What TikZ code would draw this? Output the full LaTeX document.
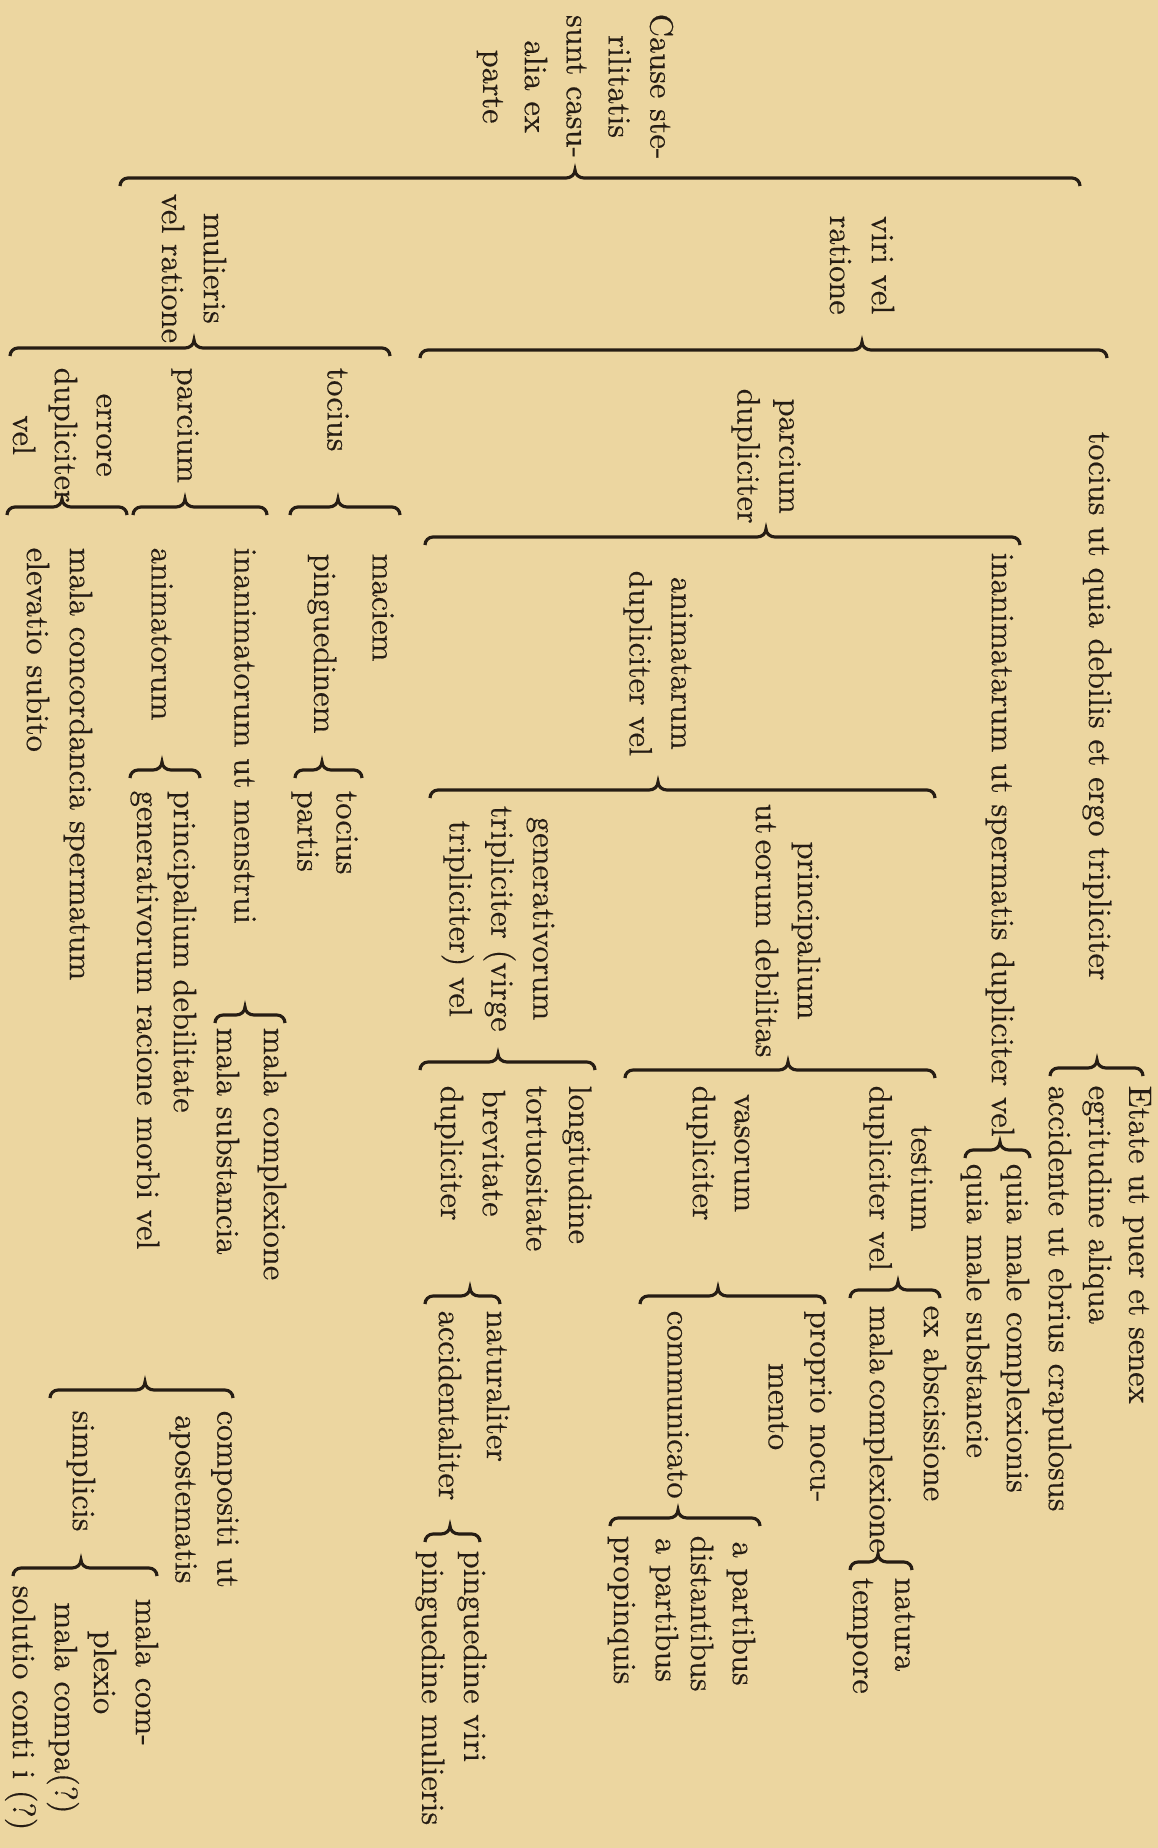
\documentclass[tikz,border=0pt]{standalone}
\usepackage{fontspec}
\newfontfamily\tabfont{lmroman10-regular.otf}[FakeBold=0.4]
\usetikzlibrary{calc}
\definecolor{paper}{RGB}{236,214,160}
\definecolor{ink}{RGB}{38,29,20}
% brace at height #2 from #3 to #4, tip at the parent #1
\newcommand{\brc}[4]{%
  \coordinate (tip) at (#1.center |- 0,-#2);
  \draw[brc] (#3,-#2-8) to[out=90,in=180] (#3+8,-#2)
    -- ($(tip)+(-9,0)$) to[out=0,in=-90] ($(tip)+(0,8)$)
    to[out=-90,in=180] ($(tip)+(9,0)$) -- (#4-8,-#2)
    to[out=0,in=90] (#4,-#2-8);}
\begin{document}
\begin{tikzpicture}[x=0.01cm,y=0.01cm,
 lbl/.style={rotate=-90, anchor=west, inner sep=0pt, align=center, text=ink,
             font={\tabfont\fontsize{9.2}{11.9}\selectfont}},
 brc/.style={draw=ink, line width=0.9pt}]
\fill[paper] (0,0) rectangle (1158,-1848);

\node[lbl] (root) at (575,-13) {Cause ste-\\rilitatis\\sunt casu-\\alia ex\\parte};
\node[lbl] (viri) at (862,-215) {viri vel\\ratione};
\node[lbl] (mul) at (194,-193) {mulieris\\vel ratione};

% viri
\node[lbl] (tot) at (1097,-431) {tocius ut quia debilis et ergo tripliciter};
\node[lbl] (eta) at (1137,-1085) {Etate ut puer et senex};
\node[lbl] (egr) at (1097,-1085) {egritudine aliqua};
\node[lbl] (acc) at (1057,-1085) {accidente ut ebrius crapulosus};
\node[lbl] (par) at (766,-388) {parcium\\dupliciter};
\node[lbl] (ina) at (1000,-552) {inanimatarum ut spermatis dupliciter vel};
\node[lbl] (qmc) at (1015,-1163) {quia male complexionis};
\node[lbl] (qms) at (975,-1163) {quia male substancie};
\node[lbl] (ani) at (658,-570) {animatarum\\dupliciter vel};
\node[lbl] (pri) at (788,-803) {principalium\\ut\,eorum debilitas};
\node[lbl] (tes) at (898,-1085) {testium\\dupliciter vel};
\node[lbl] (exa) at (935,-1305) {ex abscissione};
\node[lbl] (mcx) at (878,-1305) {mala\,complexione};
\node[lbl] (nat) at (905,-1577) {natura};
\node[lbl] (tem) at (860,-1577) {tempore};
\node[lbl] (vas) at (718,-1085) {vasorum\\dupliciter};
\node[lbl] (pro) at (800,-1310) {proprio nocu-\\mento};
\node[lbl] (com) at (678,-1310) {communicato};
\node[lbl] (ap1) at (723,-1535) {a partibus\\distantibus};
\node[lbl] (ap2) at (643,-1535) {a partibus\\propinquis};
\node[lbl] (gen) at (498,-805) {generativorum\\tripliciter (virge\\tripliciter) vel};
\node[lbl] (lon) at (577,-1085) {longitudine};
\node[lbl] (tor) at (537,-1085) {tortuositate};
\node[lbl] (bre) at (470,-1085) {brevitate\\dupliciter};
\node[lbl] (nal) at (498,-1310) {naturaliter};
\node[lbl] (acl) at (450,-1310) {accidentaliter};
\node[lbl] (pv) at (472,-1550) {pinguedine viri};
\node[lbl] (pm) at (430,-1550) {pinguedine mulieris};

% mulieris
\node[lbl] (toc) at (338,-367) {tocius};
\node[lbl] (mac) at (383,-553) {maciem};
\node[lbl] (pin) at (322,-553) {pinguedinem};
\node[lbl] (to2) at (347,-790) {tocius};
\node[lbl] (prt) at (305,-790) {partis};
\node[lbl] (prc) at (185,-367) {parcium};
\node[lbl] (inm) at (245,-547) {inanimatorum ut menstrui};
\node[lbl] (mc2) at (272,-1027) {mala complexione};
\node[lbl] (ms2) at (228,-1027) {mala substancia};
\node[lbl] (anm) at (162,-547) {animatorum};
\node[lbl] (prd) at (182,-790) {principalium debilitate};
\node[lbl] (grm) at (145,-790) {generativorum racione morbi vel};
\node[lbl] (cmp) at (204,-1410) {compositi ut\\apostematis};
\node[lbl] (sim) at (81,-1410) {simplicis};
\node[lbl] (mcp) at (123,-1598) {mala com-\\plexio};
\node[lbl] (mcs) at (42,-1585) {mala compa(?)\\solutio conti i (?)};
\node[lbl] (err) at (62,-367) {errore\\dupliciter\\vel};
\node[lbl] (mco) at (78,-547) {mala concordancia spermatum};
\node[lbl] (ele) at (38,-547) {elevatio subito};

\brc{root}{178}{120}{1080}
\brc{viri}{350}{420}{1107}
\brc{tot}{1068}{1050}{1143}
\brc{par}{537}{425}{1020}
\brc{ina}{1150}{965}{1030}
\brc{ani}{790}{430}{935}
\brc{pri}{1070}{625}{935}
\brc{tes}{1290}{850}{940}
\brc{mcx}{1562}{850}{912}
\brc{vas}{1296}{640}{825}
\brc{com}{1518}{610}{760}
\brc{gen}{1062}{420}{595}
\brc{bre}{1296}{425}{500}
\brc{acl}{1534}{425}{480}
\brc{mul}{348}{10}{390}
\brc{toc}{507}{290}{400}
\brc{pin}{770}{295}{362}
\brc{prc}{507}{133}{267}
\brc{inm}{1015}{215}{285}
\brc{anm}{770}{130}{200}
\brc{grm}{1390}{50}{233}
\brc{sim}{1568}{13}{157}
\brc{err}{507}{7}{127}
\end{tikzpicture}
\end{document}
